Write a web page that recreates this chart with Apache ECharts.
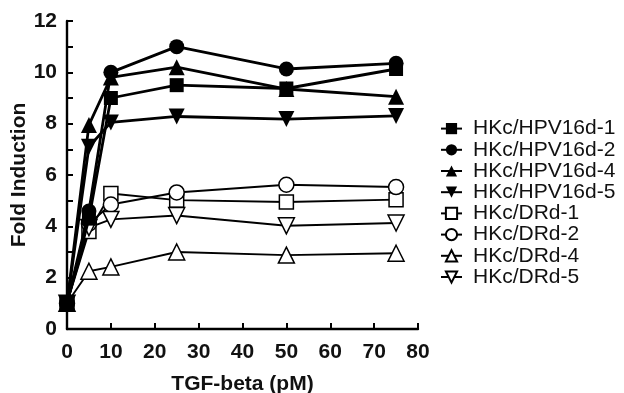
<!DOCTYPE html>
<html>
<head>
<meta charset="utf-8">
<script src="https://cdn.jsdelivr.net/npm/echarts@6/dist/echarts.min.js"></script>
<style>
  html, body { margin: 0; padding: 0; background: #fff; }
  #chart { width: 624px; height: 393px; }
</style>
</head>
<body>
<div id="chart"></div>
<script>
// TGF-beta dose (pM)
const doses = [0, 5, 10, 25, 50, 75];

const seriesNames = [
  'HKc/HPV16d-1', 'HKc/HPV16d-2', 'HKc/HPV16d-4', 'HKc/HPV16d-5',
  'HKc/DRd-1', 'HKc/DRd-2', 'HKc/DRd-4', 'HKc/DRd-5'
];

// fold induction
const hpv1 = [1, 4.3, 9.0, 9.5, 9.37, 10.13];
const hpv2 = [1, 4.6, 10.0, 11.0, 10.13, 10.35];
const hpv4 = [1, 7.95, 9.8, 10.2, 9.35, 9.05];
const hpv5 = [1, 7.1, 8.05, 8.28, 8.18, 8.3];
const dr1 = [1, 3.8, 5.28, 5.02, 4.95, 5.04];
const dr2 = [1, 4.1, 4.85, 5.32, 5.62, 5.53];
const dr4 = [1, 2.25, 2.42, 3.0, 2.88, 2.95];
const dr5 = [1, 3.95, 4.27, 4.42, 4.02, 4.13];

const seriesValues = [hpv1, hpv2, hpv4, hpv5, dr1, dr2, dr4, dr5];

const chart = echarts.init(document.getElementById('chart'), null, { renderer: 'canvas' });

const shapes = ['rect', 'circle', 'triangle', 'triangle'];
const rotations = [0, 0, 0, 180];
const sizes = [14, 15, 16, 16];

const series = seriesValues.map((vals, i) => {
  const filled = i < 4;
  const k = i % 4;
  return {
    name: seriesNames[i],
    type: 'line',
    data: vals.map((v, j) => [doses[j], v]),
    symbol: shapes[k],
    symbolRotate: rotations[k],
    symbolSize: sizes[k],
    z: filled ? 3 : 2,
    lineStyle: { color: '#000', width: filled ? 2.8 : 1.9 },
    itemStyle: {
      color: filled ? '#000' : '#fff',
      borderColor: '#000',
      borderWidth: filled ? 0 : 1.5
    },
    emphasis: { disabled: true },
    animation: false
  };
});

const axisLabelStyle = {
  fontFamily: 'Liberation Sans, Arial, sans-serif',
  fontWeight: 'bold',
  fontSize: 21,
  color: '#111'
};

const option = {
  backgroundColor: '#fff',
  animation: false,
  grid: { left: 67, right: 206, top: 21, bottom: 64, outerBoundsMode: 'none', containLabel: false },
  legend: {
    orient: 'vertical',
    left: 435,
    top: 113,
    itemWidth: 21,
    itemHeight: 14,
    itemGap: 0,
    data: seriesNames,
    textStyle: {
      fontFamily: 'Liberation Sans, Arial, sans-serif',
      fontSize: 21,
      lineHeight: 21.2,
      color: '#111',
      padding: [0, 0, 0, 6]
    }
  },
  xAxis: {
    type: 'value',
    min: 0,
    max: 80,
    interval: 10,
    name: 'TGF-beta (pM)',
    nameLocation: 'middle',
    nameGap: 45,
    nameMoveOverlap: false,
    nameTextStyle: axisLabelStyle,
    axisLine: { lineStyle: { color: '#000', width: 2.4 } },
    axisTick: { inside: true, length: 6, lineStyle: { color: '#000', width: 2 } },
    axisLabel: Object.assign({ margin: 13 }, axisLabelStyle),
    splitLine: { show: false }
  },
  yAxis: {
    type: 'value',
    min: 0,
    max: 12,
    interval: 2,
    name: 'Fold Induction',
    nameLocation: 'middle',
    nameGap: 37,
    nameMoveOverlap: false,
    nameTextStyle: axisLabelStyle,
    axisLine: { lineStyle: { color: '#000', width: 2.4 } },
    axisTick: { inside: true, length: 6, lineStyle: { color: '#000', width: 2 } },
    minorTick: { show: true, splitNumber: 2, length: 6, lineStyle: { color: '#000', width: 2 } },
    axisLabel: Object.assign({ margin: 10 }, axisLabelStyle),
    splitLine: { show: false }
  },
  series: series
};

chart.setOption(option);
</script>
</body>
</html>
